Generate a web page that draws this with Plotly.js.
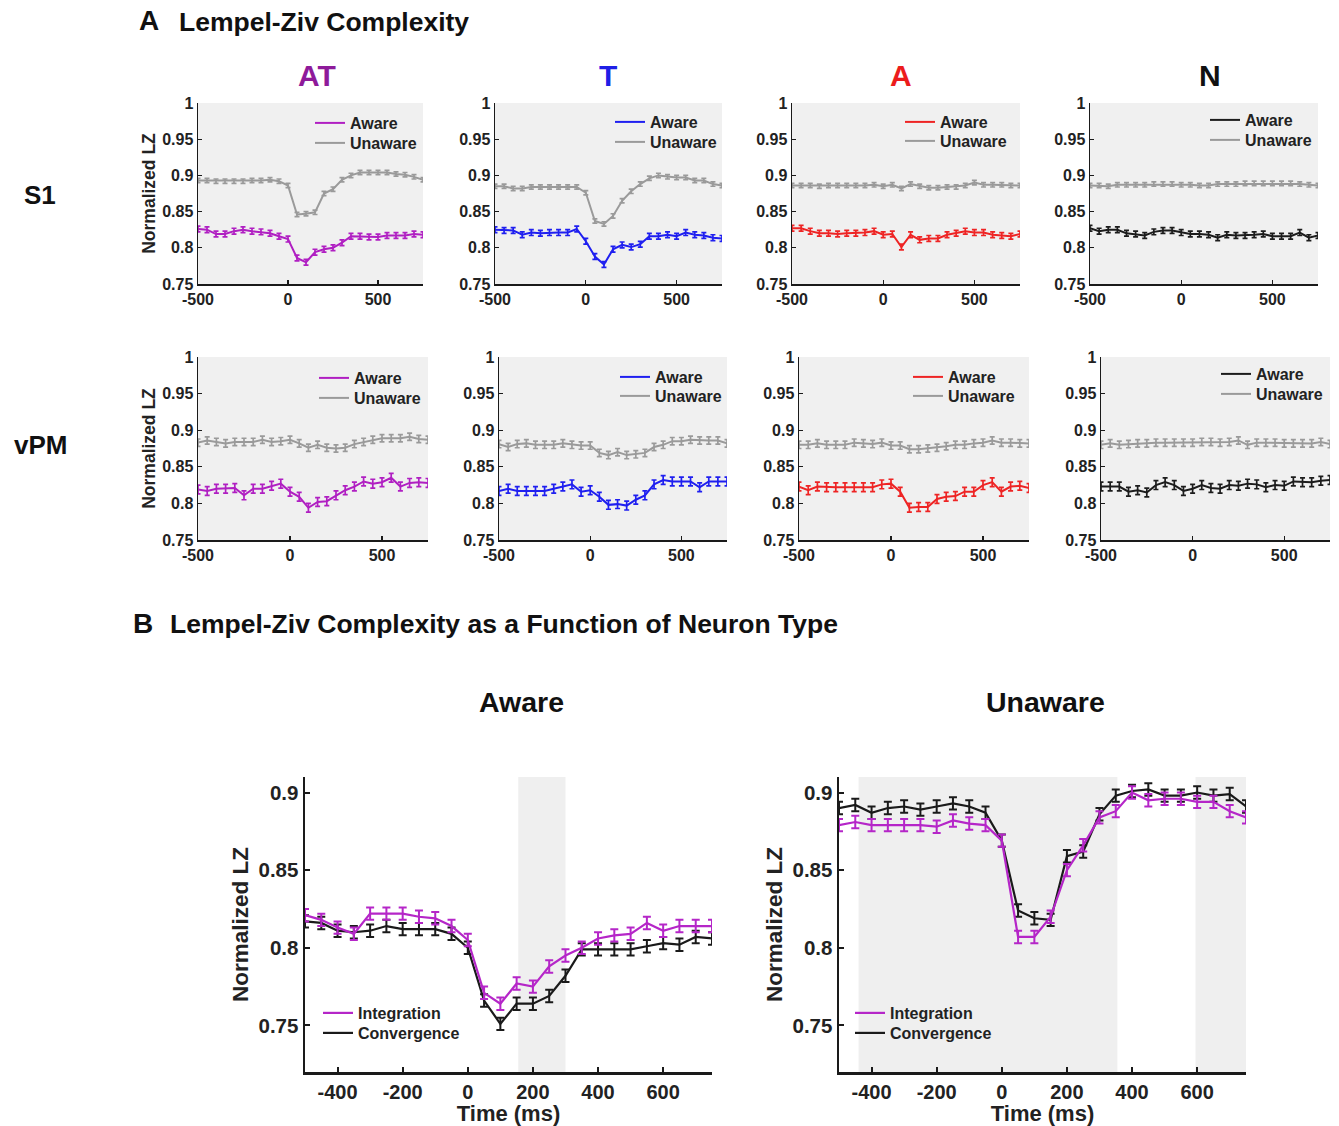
<!DOCTYPE html>
<html>
<head>
<meta charset="utf-8">
<script src="https://cdn.plot.ly/plotly-3.0.1.min.js"></script>
<style>html,body{margin:0;padding:0;background:#fff;}#chart{width:1339px;height:1126px;}</style>
</head>
<body>
<div id="chart"></div>
<script>
// ---------------- DATA ----------------
const time = [-500,-450,-400,-350,-300,-250,-200,-150,-100,-50,0,50,100,150,200,250,300,350,400,450,500,550,600,650,700,750];

const neuronTypes = ['AT','T','A','N'];
const regions = ['S1','vPM'];

// S1 row
const s1_AT_aware   = [0.826,0.825,0.819,0.819,0.823,0.825,0.823,0.822,0.820,0.816,0.812,0.786,0.780,0.794,0.798,0.800,0.807,0.816,0.816,0.815,0.815,0.817,0.817,0.817,0.819,0.818];
const s1_AT_unaware = [0.893,0.893,0.892,0.892,0.892,0.892,0.893,0.893,0.894,0.892,0.886,0.846,0.847,0.849,0.875,0.881,0.894,0.900,0.904,0.904,0.904,0.904,0.902,0.901,0.898,0.894];
const s1_T_aware    = [0.825,0.824,0.824,0.818,0.821,0.820,0.821,0.821,0.821,0.826,0.809,0.788,0.777,0.798,0.804,0.801,0.805,0.816,0.816,0.818,0.816,0.821,0.818,0.817,0.814,0.813];
const s1_T_unaware  = [0.885,0.885,0.882,0.882,0.884,0.884,0.884,0.884,0.884,0.884,0.876,0.837,0.833,0.844,0.865,0.878,0.888,0.896,0.900,0.898,0.897,0.897,0.893,0.893,0.888,0.886];
const s1_A_aware    = [0.827,0.827,0.823,0.820,0.820,0.819,0.820,0.820,0.821,0.823,0.818,0.819,0.801,0.818,0.811,0.813,0.813,0.818,0.820,0.823,0.821,0.821,0.818,0.817,0.816,0.819];
const s1_A_unaware  = [0.886,0.886,0.886,0.885,0.886,0.886,0.886,0.886,0.886,0.887,0.885,0.887,0.882,0.888,0.885,0.883,0.883,0.884,0.884,0.886,0.890,0.887,0.887,0.887,0.886,0.886];
const s1_N_aware    = [0.827,0.823,0.825,0.825,0.820,0.819,0.817,0.822,0.824,0.824,0.821,0.819,0.819,0.818,0.814,0.818,0.817,0.817,0.818,0.819,0.816,0.816,0.816,0.821,0.814,0.817];
const s1_N_unaware  = [0.886,0.886,0.885,0.887,0.887,0.887,0.887,0.888,0.888,0.888,0.887,0.887,0.886,0.886,0.888,0.888,0.888,0.889,0.889,0.889,0.889,0.889,0.889,0.888,0.887,0.886];

// vPM row
const vpm_AT_aware   = [0.819,0.817,0.820,0.820,0.821,0.811,0.820,0.820,0.824,0.827,0.816,0.809,0.794,0.802,0.803,0.811,0.818,0.823,0.830,0.827,0.829,0.835,0.823,0.828,0.829,0.828];
const vpm_AT_unaware = [0.883,0.886,0.884,0.882,0.884,0.884,0.884,0.887,0.884,0.885,0.887,0.882,0.876,0.880,0.876,0.875,0.876,0.881,0.884,0.887,0.889,0.889,0.889,0.891,0.888,0.887];
const vpm_T_aware    = [0.817,0.820,0.817,0.817,0.817,0.817,0.820,0.823,0.826,0.816,0.818,0.809,0.798,0.799,0.797,0.805,0.811,0.826,0.832,0.830,0.830,0.830,0.822,0.830,0.830,0.830];
const vpm_T_unaware  = [0.881,0.877,0.881,0.882,0.880,0.880,0.880,0.882,0.880,0.879,0.879,0.869,0.866,0.870,0.866,0.867,0.869,0.877,0.880,0.885,0.885,0.887,0.886,0.886,0.886,0.882];
const vpm_A_aware    = [0.823,0.818,0.823,0.822,0.822,0.822,0.822,0.822,0.822,0.826,0.827,0.816,0.794,0.795,0.795,0.806,0.809,0.810,0.816,0.816,0.825,0.829,0.816,0.823,0.824,0.821];
const vpm_A_unaware  = [0.880,0.880,0.882,0.880,0.880,0.880,0.883,0.882,0.881,0.883,0.879,0.879,0.874,0.874,0.875,0.876,0.878,0.880,0.880,0.882,0.883,0.886,0.883,0.883,0.882,0.882];
const vpm_N_aware    = [0.823,0.823,0.823,0.816,0.818,0.815,0.825,0.829,0.825,0.817,0.820,0.825,0.821,0.820,0.825,0.824,0.827,0.826,0.822,0.825,0.824,0.830,0.829,0.829,0.831,0.832];
const vpm_N_unaware  = [0.880,0.882,0.880,0.881,0.882,0.882,0.883,0.883,0.883,0.883,0.883,0.884,0.884,0.883,0.884,0.886,0.880,0.883,0.883,0.883,0.882,0.882,0.882,0.882,0.884,0.881];

// error bar half-widths (SEM) per row
const semS1Aware = 0.004, semS1Unaware = 0.003;
const semVpmAware = 0.006, semVpmUnaware = 0.005;

// Panel B
const B_aware_integration   = [0.821,0.818,0.813,0.809,0.822,0.822,0.822,0.820,0.819,0.814,0.805,0.771,0.764,0.777,0.775,0.788,0.795,0.800,0.806,0.808,0.809,0.816,0.811,0.814,0.814,0.814];
const B_aware_convergence   = [0.817,0.816,0.811,0.810,0.811,0.814,0.812,0.812,0.812,0.809,0.800,0.766,0.751,0.764,0.764,0.769,0.782,0.799,0.799,0.799,0.799,0.801,0.803,0.802,0.807,0.806];
const B_unaware_integration = [0.879,0.881,0.879,0.879,0.879,0.879,0.878,0.882,0.880,0.879,0.869,0.807,0.807,0.820,0.850,0.866,0.884,0.888,0.900,0.895,0.896,0.896,0.894,0.894,0.888,0.884];
const B_unaware_convergence = [0.890,0.892,0.887,0.890,0.891,0.889,0.891,0.893,0.891,0.887,0.869,0.824,0.819,0.818,0.859,0.862,0.886,0.898,0.901,0.902,0.898,0.898,0.900,0.898,0.899,0.891];
const semB = 0.004;
const awareSigWindows   = [[155, 300]];
const unawareSigWindows = [[-440, 355], [595, 750]];

// tick labels
const xTickValsA = [-500, 0, 500], xTickTextA = ['-500', '0', '500'];
const yTickValsA = [0.75, 0.8, 0.85, 0.9, 0.95, 1], yTickTextA = ['0.75', '0.8', '0.85', '0.9', '0.95', '1'];
const xTickValsB = [-400, -200, 0, 200, 400, 600], xTickTextB = ['-400', '-200', '0', '200', '400', '600'];
const yTickValsB = [0.75, 0.8, 0.85, 0.9], yTickTextB = ['0.75', '0.8', '0.85', '0.9'];

// ---------------- STYLE ----------------
const FONT = 'Liberation Sans, Arial, Helvetica, sans-serif';
const awareColors = {AT: '#b01fc2', T: '#1f1ff0', A: '#ee2424', N: '#1c1c1c'};
const titleColors = {AT: '#8e1a9a', T: '#1f1fe6', A: '#ec1c1c', N: '#111111'};
const grayColor = '#9a9a9a';
const integColor = '#b526c8', convColor = '#1a1a1a';

const W = 1339, H = 1126;
const px = v => v / W;
const py = v => 1 - v / H;

// subplot pixel boxes [left, right, top, bottom]
const boxesA = [
  [198, 423, 103, 284], [495, 722, 103, 284], [792, 1020, 103, 284], [1090, 1318, 103, 284],
  [198, 428, 357, 540], [499, 727, 357, 540], [799, 1029, 357, 540], [1101, 1330, 357, 540]
];
// legend entries: [text start x, first item center y, second item center y]
const legendPosA = [[350, 123, 143], [650, 122, 142], [940, 122, 141], [1245, 120, 140],
                    [354, 378, 398], [655, 377, 396], [948, 377, 396], [1256, 374, 394]];
const boxesB = [[305, 712, 777, 1072], [839, 1246, 777, 1072]];
const legendPosB = [[358, 1013, 1033], [890, 1013, 1033]];

const seriesA = {
  S1:  {AT: [s1_AT_aware, s1_AT_unaware], T: [s1_T_aware, s1_T_unaware], A: [s1_A_aware, s1_A_unaware], N: [s1_N_aware, s1_N_unaware]},
  vPM: {AT: [vpm_AT_aware, vpm_AT_unaware], T: [vpm_T_aware, vpm_T_unaware], A: [vpm_A_aware, vpm_A_unaware], N: [vpm_N_aware, vpm_N_unaware]}
};

const traces = [];
const layout = {
  width: W, height: H,
  margin: {l: 0, r: 0, t: 0, b: 0},
  paper_bgcolor: '#ffffff', plot_bgcolor: '#ffffff',
  font: {family: FONT, color: '#222'},
  showlegend: true,
  shapes: [], annotations: []
};

function axisStyle(lw, fs) {
  return {
    showline: true, linecolor: '#1a1a1a', linewidth: lw, mirror: false,
    showgrid: false, zeroline: false,
    ticks: 'inside', ticklen: 4, tickwidth: lw * 0.8, tickcolor: '#1a1a1a',
    tickfont: {family: FONT, size: fs, weight: 'bold', color: '#222'},
    tickmode: 'array', fixedrange: true
  };
}

let legendCount = 0;
function newLegend(textX, cy, fs) {
  legendCount += 1;
  const name = 'legend' + (legendCount === 1 ? '' : legendCount);
  layout[name] = {x: px(textX - 40), y: py(cy), xanchor: 'left', yanchor: 'middle', bgcolor: 'rgba(0,0,0,0)',
    itemwidth: 30, tracegroupgap: 0, borderwidth: 0,
    font: {family: FONT, size: fs, weight: 'bold', color: '#222'}};
  return name;
}

let idx = 0;
regions.forEach((reg, r) => {
  neuronTypes.forEach((nt, c) => {
    idx += 1;
    const k = idx;
    const box = boxesA[k - 1];
    const xa = 'xaxis' + (k === 1 ? '' : k), ya = 'yaxis' + (k === 1 ? '' : k);
    const xr = 'x' + (k === 1 ? '' : k), yr = 'y' + (k === 1 ? '' : k);
    layout[xa] = Object.assign(axisStyle(1.5, 16), {
      domain: [px(box[0]), px(box[1])], anchor: yr, range: [-500, 750],
      tickvals: xTickValsA, ticktext: xTickTextA
    });
    layout[ya] = Object.assign(axisStyle(1.5, 16), {
      domain: [py(box[3]), py(box[2])], anchor: xr, range: [0.75, 1],
      tickvals: yTickValsA, ticktext: yTickTextA
    });
    if (c === 0) {
      layout[ya].title = {text: 'Normalized LZ', font: {family: FONT, size: 17.5, weight: 'bold', color: '#222'}, standoff: 2};
    }
    layout.shapes.push({type: 'rect', xref: xr + ' domain', yref: yr + ' domain', x0: 0, x1: 1, y0: 0, y1: 1,
      fillcolor: '#f0f0f0', line: {width: 0}, layer: 'below'});
    const lp = legendPosA[k - 1];
    const lgA = newLegend(lp[0], lp[1], 16);
    const lgU = newLegend(lp[0], lp[2], 16);
    const [aw, un] = seriesA[reg][nt];
    const semA = reg === 'S1' ? semS1Aware : semVpmAware;
    const semU = reg === 'S1' ? semS1Unaware : semVpmUnaware;
    traces.push({x: time, y: aw, xaxis: xr, yaxis: yr, type: 'scatter', mode: 'lines', name: 'Aware', legend: lgA,
      line: {color: awareColors[nt], width: 2},
      error_y: {type: 'constant', value: semA, color: awareColors[nt], thickness: 1.7, width: 2.5}});
    traces.push({x: time, y: un, xaxis: xr, yaxis: yr, type: 'scatter', mode: 'lines', name: 'Unaware', legend: lgU,
      line: {color: grayColor, width: 2},
      error_y: {type: 'constant', value: semU, color: grayColor, thickness: 1.7, width: 2.5}});
  });
});

// Panel B
const panelB = [
  {integ: B_aware_integration, conv: B_aware_convergence, windows: awareSigWindows},
  {integ: B_unaware_integration, conv: B_unaware_convergence, windows: unawareSigWindows}
];
panelB.forEach((p, j) => {
  const k = 9 + j;
  const box = boxesB[j];
  const xr = 'x' + k, yr = 'y' + k;
  layout['xaxis' + k] = Object.assign(axisStyle(2.5, 20), {
    domain: [px(box[0]), px(box[1])], anchor: yr, range: [-500, 750],
    tickvals: xTickValsB, ticktext: xTickTextB, ticklen: 5,
    title: {text: 'Time (ms)', font: {family: FONT, size: 22, weight: 'bold', color: '#222'}, standoff: 1}
  });
  layout['yaxis' + k] = Object.assign(axisStyle(2.5, 20.5), {
    domain: [py(box[3]), py(box[2])], anchor: xr, range: [0.72, 0.91],
    tickvals: yTickValsB, ticktext: yTickTextB, ticklen: 5,
    title: {text: 'Normalized LZ', font: {family: FONT, size: 22.5, weight: 'bold', color: '#222'}, standoff: 4}
  });
  p.windows.forEach(w => {
    layout.shapes.push({type: 'rect', xref: xr, yref: yr + ' domain', x0: w[0], x1: w[1], y0: 0, y1: 1,
      fillcolor: '#efefef', line: {width: 0}, layer: 'below'});
  });
  const lp = legendPosB[j];
  const lgI = newLegend(lp[0], lp[1], 16);
  const lgC = newLegend(lp[0], lp[2], 16);
  traces.push({x: time, y: p.conv, xaxis: xr, yaxis: yr, type: 'scatter', mode: 'lines', name: 'Convergence', legend: lgC,
    line: {color: convColor, width: 2.2},
    error_y: {type: 'constant', value: semB, color: convColor, thickness: 2, width: 4}});
  traces.push({x: time, y: p.integ, xaxis: xr, yaxis: yr, type: 'scatter', mode: 'lines', name: 'Integration', legend: lgI,
    line: {color: integColor, width: 2.2},
    error_y: {type: 'constant', value: semB, color: integColor, thickness: 2, width: 4}});
});

// text labels
function ann(text, x, y, size, color, xanchor) {
  layout.annotations.push({text: text, x: px(x), y: py(y), xref: 'paper', yref: 'paper', showarrow: false,
    xanchor: xanchor || 'center', yanchor: 'middle', font: {family: FONT, size: size, weight: 'bold', color: color || '#111'}});
}
ann('A', 137, 21, 28, '#111', 'left');
ann('Lempel-Ziv Complexity', 177, 22, 26.5, '#111', 'left');
ann('B', 131, 623, 28, '#111', 'left');
ann('Lempel-Ziv Complexity as a Function of Neuron Type', 168, 624, 26.5, '#111', 'left');
ann('AT', 317, 75, 30, titleColors.AT);
ann('T', 608, 75, 30, titleColors.T);
ann('A', 901, 75, 30, titleColors.A);
ann('N', 1210, 75, 30, titleColors.N);
ann('S1', 40, 195, 26, '#111');
ann('vPM', 40, 445, 26, '#111');
ann('Aware', 521, 702, 28.5, '#111');
ann('Unaware', 1045, 702, 28.5, '#111');

Plotly.newPlot('chart', traces, layout, {displayModeBar: false, staticPlot: true});
</script>
</body>
</html>
